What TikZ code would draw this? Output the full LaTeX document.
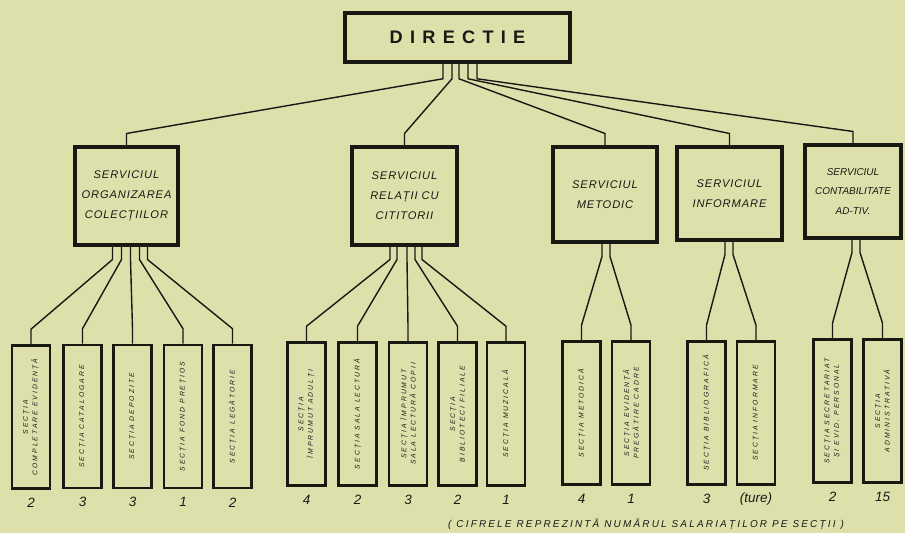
\documentclass[tikz,border=0pt]{standalone}
\usepackage{fontspec}
\setsansfont{Liberation Sans}
\usetikzlibrary{calc}
\definecolor{paper}{RGB}{222,224,172}
\definecolor{ink}{RGB}{25,25,20}
\begin{document}
\begin{tikzpicture}[x=0.3mm, y=-0.3mm, ink,
  wire/.style={line width=1.2pt},
  topbox/.style={draw, line width=3pt, minimum width=67.5mm, minimum height=14.7mm},
  servbox/.style={draw, line width=2.6pt, align=center, inner sep=1pt,
    font=\sffamily\itshape\fontsize{9.5}{17}\selectfont\addfontfeatures{LetterSpace=8}},
  sectbox/.style={draw, line width=2.2pt, minimum width=11.4mm, minimum height=42.9mm},
  secttext/.style={rotate=90, align=center, inner sep=0pt,
    font=\sffamily\itshape\fontsize{5.8}{8}\selectfont\addfontfeatures{LetterSpace=30}},
  nr/.style={font=\sffamily\itshape\fontsize{11.5}{12}\selectfont}]
\fill[paper] (0,0) rectangle (905,533);
\useasboundingbox (0,0) rectangle (905,533);

\node[topbox, font=\sffamily\bfseries\fontsize{15.5}{16}\selectfont\addfontfeatures{LetterSpace=40}] (dir) at (457.5,37.5) {DIRECTIE};

\node[servbox, minimum width=30.9mm, minimum height=29.4mm] (s1) at (126.5,196) {SERVICIUL\\ORGANIZAREA\\COLECȚIILOR};
\node[servbox, minimum width=31.5mm, minimum height=29.4mm] (s2) at (404.5,196) {SERVICIUL\\RELAȚII CU\\CITITORII};
\node[servbox, minimum width=31.2mm, minimum height=28.5mm] (s3) at (605,194.5) {SERVICIUL\\METODIC};
\node[servbox, minimum width=31.5mm, minimum height=27.9mm] (s4) at (729.5,193.5) {SERVICIUL\\INFORMARE};
\node[servbox, minimum width=28.8mm, minimum height=27.9mm, font=\sffamily\itshape\fontsize{8.5}{17}\selectfont] (s5) at (853,191.5) {SERVICIUL\\CONTABILITATE\\AD-TIV.};

% directie -> servicii
\foreach \dx/\s in {-14.5/s1, -5.5/s2, 1.5/s3, 10.5/s4, 19.5/s5}
  \draw[wire] ($(dir.south)+(\dx,0)$) -- ++(0,15) -- ($(\s.north)+(0,-12)$) -- (\s.north);

% sectii
\foreach \n/\x/\y/\t/\c in {
  a/31/417/{SECȚIA\\COMPLETARE EVIDENȚĂ}/2,
  b/82.5/416.5/{SECȚIA CATALOGARE}/3,
  c/132.5/416.5/{SECȚIA DEPOZITE}/3,
  d/183/416.5/{SECȚIA FOND PREȚIOS}/1,
  e/232.5/416.5/{SECȚIA LEGĂTORIE}/2,
  f/306.5/414/{SECȚIA\\ÎMPRUMUT ADULȚI}/4,
  g/357.5/414/{SECȚIA SALA LECTURĂ}/2,
  h/408/414/{SECȚIA ÎMPRUMUT\\SALA LECTURĂ COPII}/3,
  i/457.5/414/{SECȚIA\\BIBLIOTECI FILIALE}/2,
  j/506/414/{SECȚIA MUZICALĂ}/1,
  k/581.5/413/{SECȚIA METODICĂ}/4,
  l/631/413/{SECȚIA EVIDENȚĂ\\PREGĂTIRE CADRE}/1,
  m/706.5/413/{SECȚIA BIBLIOGRAFICĂ}/3,
  n/756/413/{SECȚIA INFORMARE}/(ture),
  o/832.5/411/{SECȚIA SECRETARIAT\\ȘI EVID. PERSONAL}/2,
  p/882.5/411/{SECȚIA\\ADMINISTRATIVĂ}/15}
{
  \node[sectbox] (\n) at (\x,\y) {};
  \node[secttext] at (\n) {\t};
  \node[nr] at ($(\n.south)+(0,13)$) {\c};
}

% servicii -> sectii
\foreach \s/\dx/\n in {s1/-14/a, s1/-5/b, s1/4/c, s1/13/d, s1/21/e,
  s2/-14.5/f, s2/-7.5/g, s2/2.5/h, s2/10.5/i, s2/17.5/j,
  s3/-3/k, s3/5/l, s4/-4.5/m, s4/3.5/n, s5/-1/o, s5/7/p}
  \draw[wire] ($(\s.south)+(\dx,0)$) -- ++(0,13) -- ($(\n.north)+(0,-15)$) -- (\n.north);

\node[font=\sffamily\itshape\fontsize{8.5}{9}\selectfont\addfontfeatures{LetterSpace=22}] (note) at (646,524)
  {( CIFRELE REPREZINTĂ NUMĂRUL SALARIAȚILOR PE SECȚII )};
\end{tikzpicture}
\end{document}
